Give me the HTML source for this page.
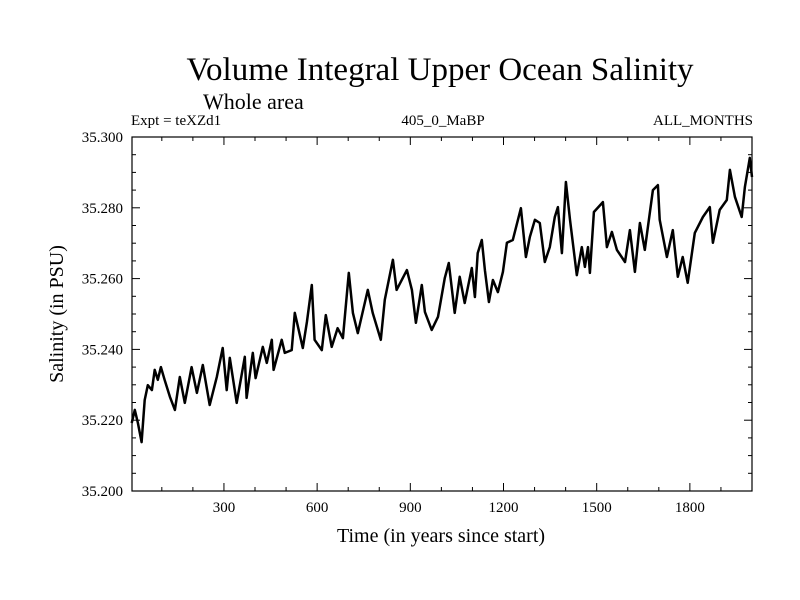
<!DOCTYPE html>
<html><head><meta charset="utf-8"><style>
html,body{margin:0;padding:0;background:#fff;}
svg{display:block;font-family:"Liberation Serif",serif;}
</style></head><body>
<svg id="chart" width="800" height="600" viewBox="0 0 800 600">
<rect width="800" height="600" fill="#fff"/>
<text x="440" y="80" font-size="33" text-anchor="middle">Volume Integral Upper Ocean Salinity</text>
<text x="203" y="109" font-size="22">Whole area</text>
<text x="131" y="125" font-size="15">Expt = teXZd1</text>
<text x="443" y="125" font-size="15" text-anchor="middle">405_0_MaBP</text>
<text x="753" y="125" font-size="15" text-anchor="end">ALL_MONTHS</text>
<text x="441" y="542" font-size="20" text-anchor="middle">Time (in years since start)</text>
<text transform="translate(63,314) rotate(-90)" font-size="20" text-anchor="middle">Salinity (in PSU)</text>
<g id="axes"></g>
<path id="series" fill="none" stroke="#000" stroke-width="2.5" stroke-linejoin="round"/>
</svg>
<script>
const years=[3,13,23,35,45,55,68,77,87,97,109,126,142,158,174,196,213,232,254,277,296,309,319,341,367,373,393,402,425,438,454,460,486,496,518,528,554,567,583,592,615,628,647,666,683,702,715,731,763,779,805,818,844,856,889,905,918,937,947,969,989,1011,1024,1043,1059,1075,1098,1108,1117,1130,1140,1153,1166,1182,1198,1211,1230,1256,1272,1285,1301,1317,1333,1349,1365,1375,1388,1401,1414,1436,1452,1462,1472,1478,1491,1520,1533,1549,1565,1591,1607,1623,1639,1655,1681,1697,1703,1726,1745,1761,1777,1793,1816,1842,1864,1874,1896,1919,1929,1945,1967,1977,1993,2000];
const salinity=[35.2192,35.2229,35.2192,35.2138,35.2257,35.2299,35.2285,35.2342,35.2314,35.2350,35.2314,35.2266,35.2229,35.2322,35.2249,35.2350,35.2277,35.2356,35.2243,35.2322,35.2404,35.2285,35.2376,35.2249,35.2379,35.2263,35.2390,35.2319,35.2407,35.2362,35.2427,35.2342,35.2427,35.2390,35.2398,35.2503,35.2404,35.2477,35.2582,35.2427,35.2398,35.2497,35.2407,35.2460,35.2432,35.2616,35.2503,35.2446,35.2568,35.2503,35.2427,35.2540,35.2653,35.2568,35.2624,35.2568,35.2475,35.2582,35.2506,35.2455,35.2492,35.2602,35.2644,35.2503,35.2605,35.2531,35.2630,35.2548,35.2672,35.2709,35.2624,35.2534,35.2596,35.2562,35.2619,35.2701,35.2709,35.2799,35.2661,35.2718,35.2766,35.2757,35.2647,35.2689,35.2774,35.2802,35.2672,35.2873,35.2766,35.2610,35.2689,35.2633,35.2689,35.2616,35.2788,35.2816,35.2689,35.2732,35.2681,35.2647,35.2737,35.2619,35.2757,35.2681,35.2850,35.2864,35.2766,35.2661,35.2737,35.2605,35.2661,35.2588,35.2729,35.2774,35.2802,35.2701,35.2794,35.2822,35.2907,35.2831,35.2774,35.2859,35.2941,35.2887];
const xTicks=[300,600,900,1200,1500,1800];
const yTicks=[35.200,35.220,35.240,35.260,35.280,35.300];
const yTickLabels=["35.200","35.220","35.240","35.260","35.280","35.300"];

const L=132,R=752,T=137,B=491,X0=4,X1=2000,Y0=35.2,Y1=35.3;
const sx=v=>L+(v-X0)/(X1-X0)*(R-L);
const sy=v=>B-(v-Y0)/(Y1-Y0)*(B-T);
const NS="http://www.w3.org/2000/svg";
const g=document.getElementById('axes');
function mk(tag,at){const e=document.createElementNS(NS,tag);for(const k in at)e.setAttribute(k,at[k]);g.appendChild(e);return e;}
const frame=mk('rect',{x:L,y:T,width:R-L,height:B-T,fill:'none',stroke:'#000','stroke-width':1.2});


for(let v=100;v<X1;v+=100){
  const major=v%300===0,len=major?8:4,x=sx(v);
  const t1=mk('line',{x1:x,y1:B,x2:x,y2:B-len,stroke:'#000','stroke-width':1});
  
  
  const t2=mk('line',{x1:x,y1:T,x2:x,y2:T+len,stroke:'#000','stroke-width':1});
  
  
}
xTicks.forEach(v=>{
  const t=mk('text',{x:sx(v),y:B+21,'font-size':15,'text-anchor':'middle'});
  t.textContent=v;
  
  
});
for(let i=0;i<=20;i++){
  const v=Y0+i*0.005,major=i%4===0,len=major?8:4,y=sy(v);
  const t1=mk('line',{x1:L,y1:y,x2:L+len,y2:y,stroke:'#000','stroke-width':1});
  
  
  const t2=mk('line',{x1:R,y1:y,x2:R-len,y2:y,stroke:'#000','stroke-width':1});
  
  
}
yTicks.forEach((v,i)=>{
  const t=mk('text',{x:123,y:sy(v)+5,'font-size':15,'text-anchor':'end'});
  t.textContent=yTickLabels[i];
  
  
});
document.getElementById('series').setAttribute('d',years.map((yr,i)=>(i?'L':'M')+sx(yr).toFixed(1)+' '+sy(salinity[i]).toFixed(1)).join(' '));
</script>
</body></html>
